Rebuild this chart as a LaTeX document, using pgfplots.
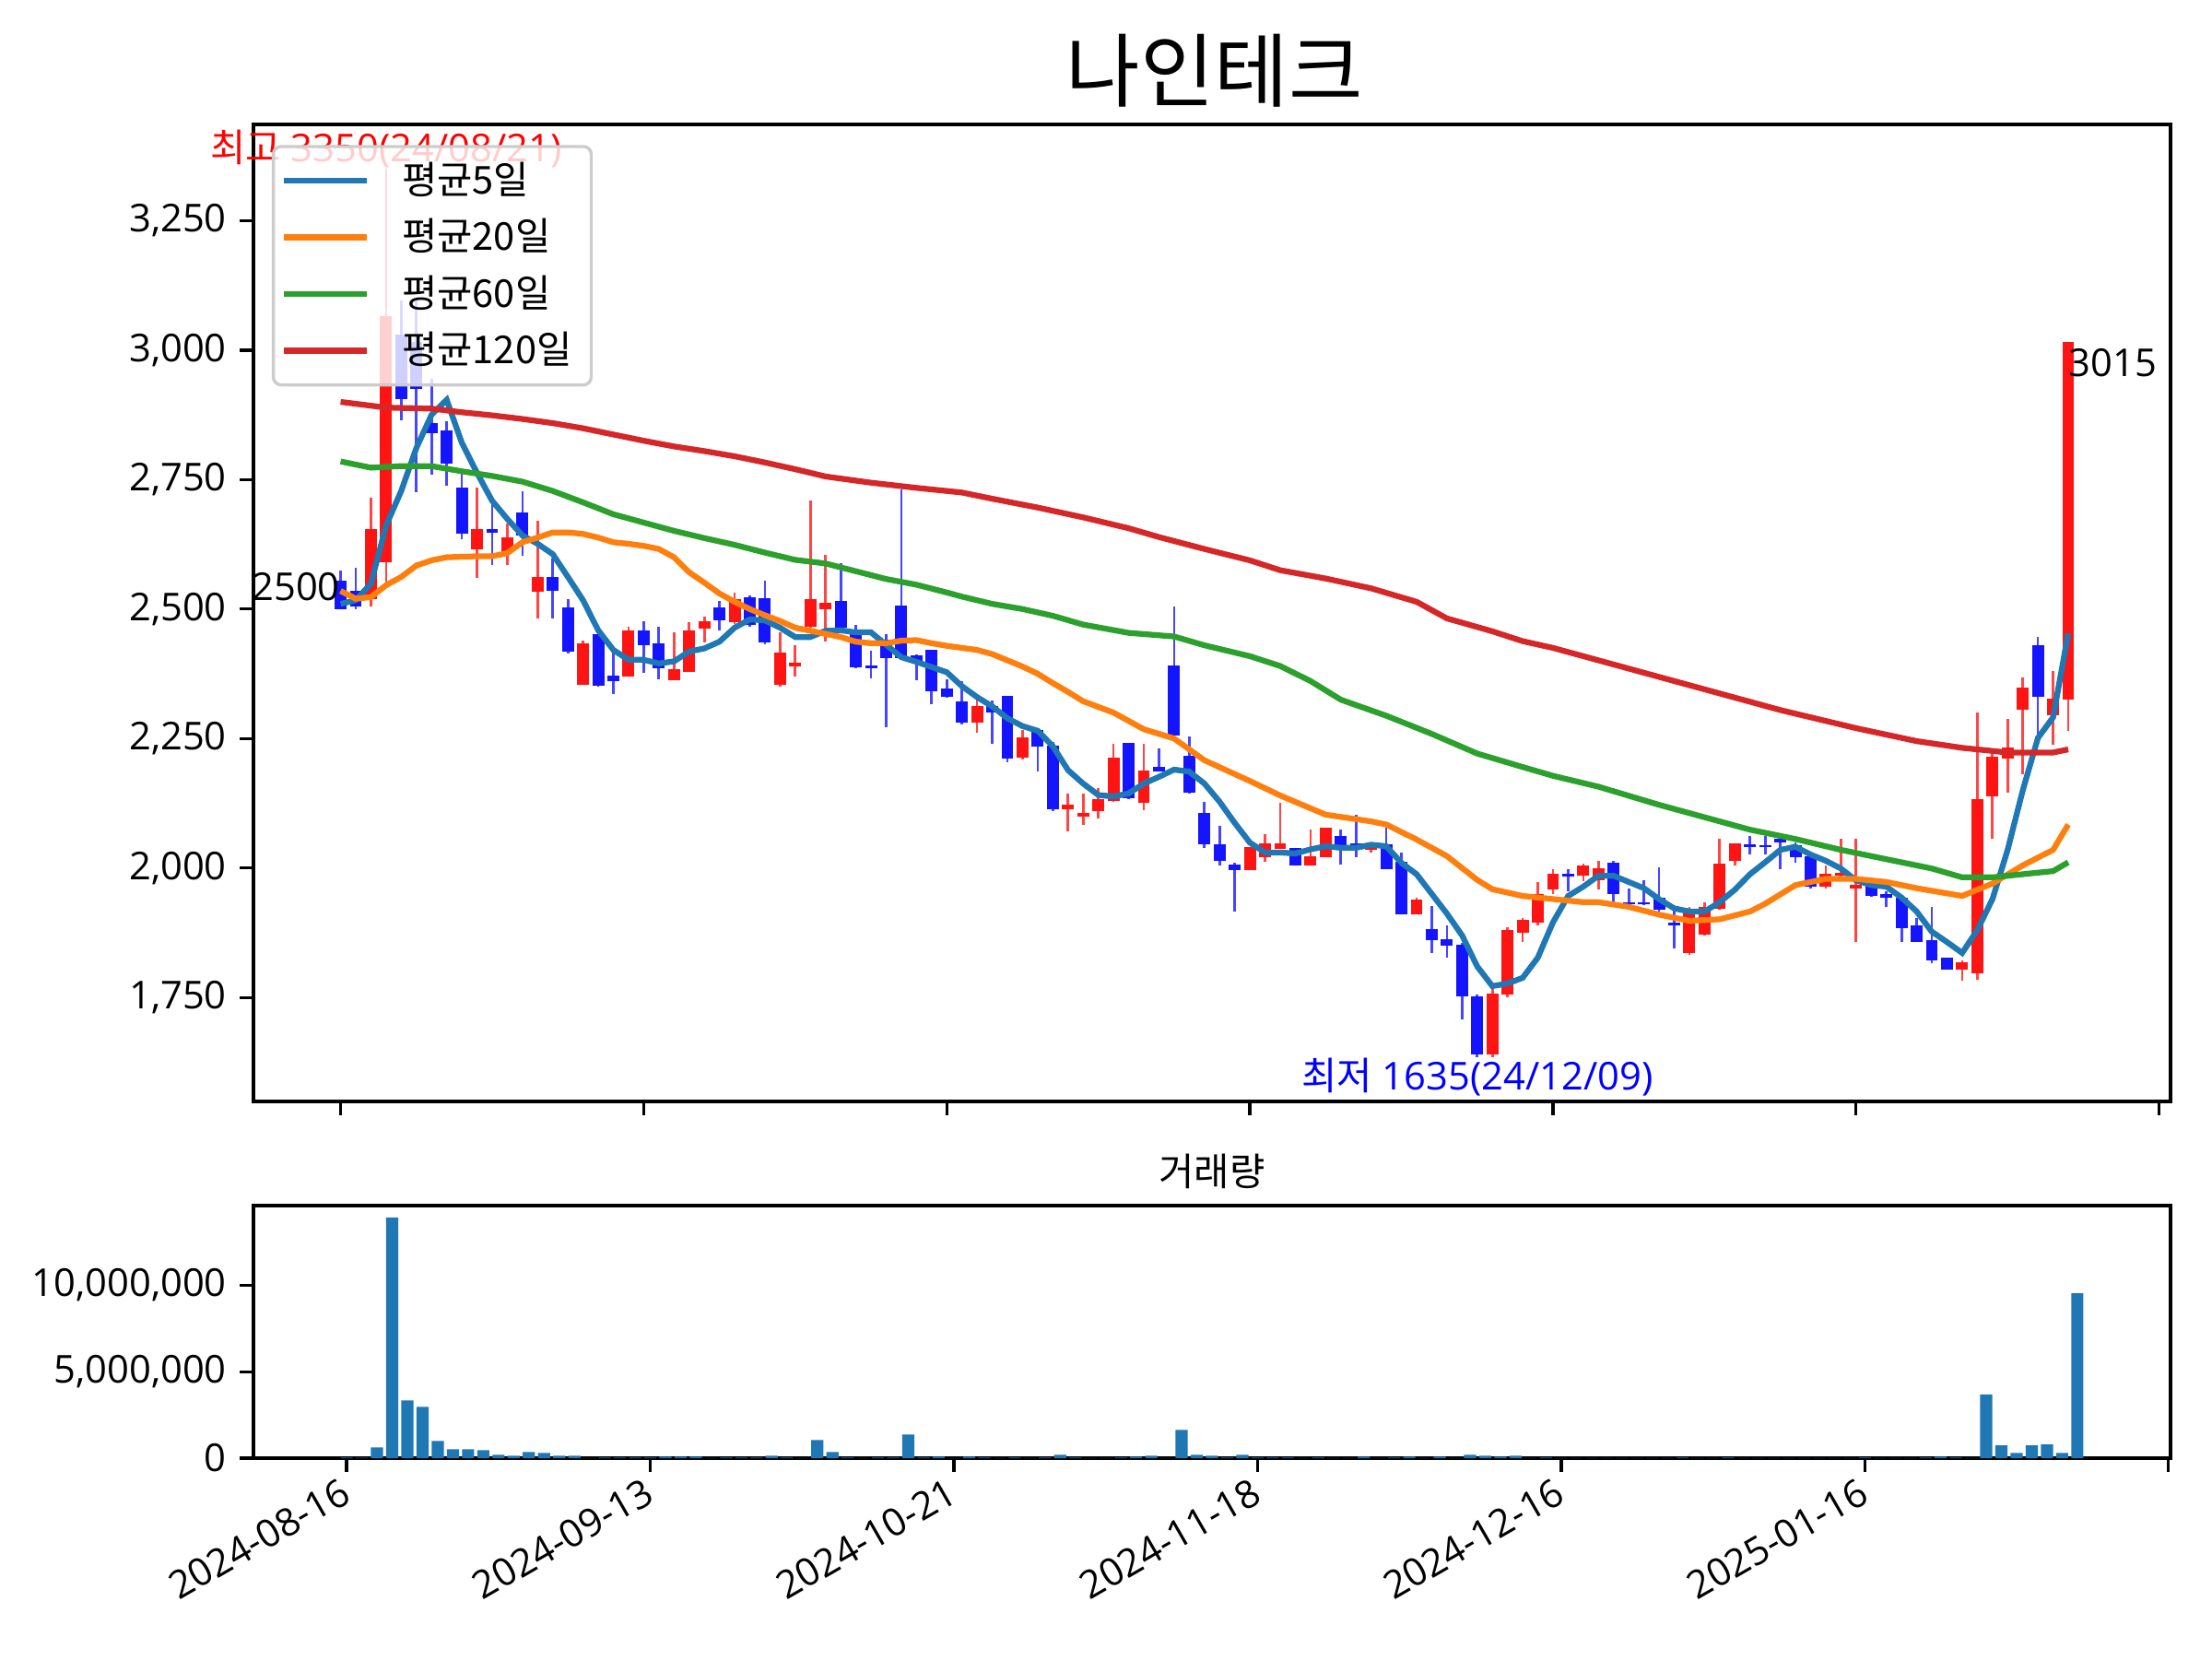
\documentclass[border=0pt]{standalone}
\usepackage{fontspec}
\setmainfont{Open Sans}
\newfontfamily\kr{Noto Sans CJK KR}
\usepackage{pgfplots}
\usepackage{pgfplotstable}
\pgfplotsset{compat=1.18}

\definecolor{cup}{RGB}{255,20,20}
\definecolor{cdn}{RGB}{20,20,255}
\definecolor{wup}{RGB}{255,70,70}
\definecolor{wdn}{RGB}{70,70,255}
\definecolor{c0}{HTML}{1F77B4}
\definecolor{c1}{HTML}{FF7F0E}
\definecolor{c2}{HTML}{2CA02C}
\definecolor{c3}{HTML}{D62728}

\pgfplotstableread{
i O H L C V
0 2555 2575 2500 2500 40000
1 2535 2580 2500 2505 20000
2 2520 2715 2505 2655 620000
3 2590 3350 2550 3065 13920000
4 3030 3095 2865 2905 3350000
5 3015 3095 2725 2925 2970000
6 2860 2945 2760 2840 1000000
7 2845 2862 2738 2780 520000
8 2735 2765 2635 2645 520000
9 2615 2735 2560 2655 460000
10 2655 2715 2585 2648 200000
11 2610 2665 2585 2638 140000
12 2686 2728 2603 2642 360000
13 2533 2670 2482 2562 300000
14 2562 2597 2482 2536 140000
15 2503 2520 2415 2418 140000
16 2354 2440 2354 2433 15000
17 2452 2455 2350 2352 40000
18 2372 2416 2336 2360 40000
19 2369 2465 2369 2458 40000
20 2458 2476 2376 2430 40000
21 2433 2465 2365 2385 90000
22 2363 2455 2363 2384 90000
23 2379 2475 2379 2458 90000
24 2463 2485 2436 2477 15000
25 2503 2515 2458 2479 40000
26 2475 2532 2472 2520 40000
27 2522 2527 2466 2470 40000
28 2521 2555 2432 2435 140000
29 2354 2455 2350 2416 40000
30 2390 2431 2370 2397 15000
31 2465 2710 2464 2520 1050000
32 2500 2605 2437 2512 360000
33 2516 2588 2460 2464 40000
34 2452 2470 2385 2388 15000
35 2391 2419 2366 2385 40000
36 2441 2451 2271 2406 40000
37 2507 2731 2404 2406 1370000
38 2410 2413 2362 2396 40000
39 2422 2422 2317 2342 90000
40 2347 2364 2329 2330 15000
41 2322 2360 2278 2280 90000
42 2280 2327 2262 2313 40000
43 2313 2324 2240 2301 15000
44 2333 2333 2205 2211 40000
45 2213 2266 2210 2253 15000
46 2267 2267 2186 2234 40000
47 2237 2243 2110 2114 200000
48 2114 2144 2071 2122 40000
49 2100 2144 2084 2107 15000
50 2110 2154 2096 2133 15000
51 2130 2240 2128 2213 40000
52 2241 2241 2133 2135 90000
53 2125 2240 2112 2188 140000
54 2195 2230 2186 2187 15000
55 2391 2505 2256 2256 1640000
56 2216 2254 2144 2145 200000
57 2107 2128 2039 2045 140000
58 2045 2081 2004 2014 40000
59 2006 2010 1916 1996 200000
60 1996 2041 1996 2041 40000
61 2020 2065 2012 2047 40000
62 2037 2125 2037 2047 40000
63 2039 2039 2004 2004 15000
64 2004 2074 2004 2022 40000
65 2020 2077 2020 2077 15000
66 2061 2074 2007 2039 15000
67 2047 2103 2020 2039 90000
68 2036 2050 2030 2047 15000
69 2045 2077 1998 1998 40000
70 2012 2030 1910 1910 90000
71 1910 1943 1910 1939 15000
72 1882 1927 1835 1860 90000
73 1862 1889 1827 1850 15000
74 1852 1855 1708 1752 200000
75 1752 1755 1635 1640 140000
76 1640 1767 1635 1758 90000
77 1755 1886 1750 1880 140000
78 1875 1904 1857 1900 15000
79 1895 1973 1890 1950 40000
80 1958 1997 1949 1988 15000
81 1988 1997 1955 1983 15000
82 1985 2008 1975 2005 15000
83 1976 2014 1958 1999 15000
84 2011 2014 1934 1950 15000
85 1934 1961 1929 1930 15000
86 1934 1976 1929 1930 15000
87 1943 2002 1916 1920 15000
88 1895 1919 1845 1890 40000
89 1836 1925 1832 1916 15000
90 1872 1934 1869 1925 15000
91 1922 2056 1920 2008 40000
92 2014 2047 2005 2047 15000
93 2046 2062 2026 2040 15000
94 2044 2062 2026 2040 15000
95 2056 2062 1997 2050 15000
96 2044 2050 2010 2020 15000
97 2023 2030 1960 1964 15000
98 1964 2005 1961 1988 15000
99 1985 2056 1982 1991 15000
100 1961 2056 1857 1967 40000
101 1970 1972 1944 1946 15000
102 1949 1955 1925 1943 15000
103 1943 1945 1857 1883 15000
104 1889 1904 1857 1858 40000
105 1860 1925 1816 1822 90000
106 1827 1827 1803 1804 40000
107 1803 1821 1782 1818 15000
108 1797 2300 1785 2133 3690000
109 2139 2220 2056 2214 750000
110 2211 2288 2145 2232 300000
111 2305 2368 2181 2348 750000
112 2430 2446 2249 2330 800000
113 2295 2380 2238 2327 300000
114 2325 3015 2265 3015 9540000
}\stock

\pgfplotstableread{
i v
0 2510
1 2517
2 2549
3 2661
4 2728
5 2811
6 2875
7 2904
8 2821
9 2763
10 2709
11 2674
12 2642
13 2626
14 2606
15 2562
16 2517
17 2459
18 2421
19 2402
20 2402
21 2395
22 2399
23 2418
24 2424
25 2437
26 2464
27 2480
28 2478
29 2464
30 2446
31 2446
32 2458
33 2459
34 2455
35 2455
36 2431
37 2407
38 2398
39 2388
40 2378
41 2351
42 2330
43 2312
44 2289
45 2274
46 2265
47 2235
48 2189
49 2163
50 2141
51 2138
52 2144
53 2163
54 2176
55 2190
56 2186
57 2163
58 2128
59 2087
60 2049
61 2030
62 2030
63 2028
64 2036
65 2042
66 2039
67 2039
68 2045
69 2042
70 2010
71 1988
72 1950
73 1912
74 1870
75 1810
76 1772
77 1777
78 1788
79 1827
80 1895
81 1946
82 1964
83 1985
84 1985
85 1973
86 1961
87 1940
88 1922
89 1916
90 1916
91 1934
92 1958
93 1988
94 2011
95 2035
96 2041
97 2026
98 2014
99 1999
100 1976
101 1967
102 1964
103 1943
104 1916
105 1877
106 1857
107 1836
108 1880
109 1940
110 2035
111 2150
112 2251
113 2291
114 2453
}\maA

\pgfplotstableread{
i v
0 2535
1 2520
2 2523
3 2546
4 2562
5 2584
6 2594
7 2600
9 2602
10 2602
11 2608
12 2629
13 2638
14 2648
15 2648
16 2645
17 2638
18 2629
19 2626
20 2622
21 2616
22 2600
23 2571
24 2551
25 2530
26 2514
27 2500
28 2488
29 2477
30 2464
31 2458
32 2452
33 2446
34 2437
35 2434
36 2434
37 2439
38 2440
39 2434
40 2429
41 2425
42 2421
43 2413
44 2401
45 2389
46 2375
47 2357
48 2340
49 2322
51 2300
53 2268
55 2250
57 2208
60 2168
62 2140
65 2103
68 2090
69 2084
71 2055
73 2023
75 1977
76 1959
78 1946
80 1940
82 1934
83 1934
85 1925
87 1910
89 1898
91 1901
93 1916
94 1931
96 1967
98 1979
100 1979
102 1973
104 1961
107 1946
109 1970
111 2005
113 2035
114 2084
}\maB

\pgfplotstableread{
i v
0 2785
2 2773
4 2776
6 2776
8 2766
10 2757
12 2746
14 2728
16 2706
18 2683
20 2667
22 2651
24 2637
26 2624
28 2609
30 2595
32 2588
34 2573
36 2558
38 2547
40 2532
41 2524
43 2510
45 2500
47 2487
49 2470
52 2454
55 2447
57 2430
60 2409
62 2390
64 2361
66 2325
69 2294
72 2259
75 2221
78 2195
80 2178
83 2157
87 2122
90 2098
93 2074
96 2056
99 2035
102 2017
105 1999
107 1982
109 1982
111 1988
113 1994
114 2011
}\maC

\pgfplotstableread{
i v
0 2900
3 2889
6 2887
8 2880
10 2874
12 2867
14 2859
16 2849
18 2837
20 2825
22 2814
24 2805
26 2795
28 2783
30 2770
32 2756
35 2744
38 2734
41 2725
43 2713
46 2696
49 2677
52 2656
54 2639
57 2616
60 2594
62 2575
65 2559
68 2540
71 2514
73 2482
76 2457
78 2438
80 2425
85 2385
90 2345
95 2305
100 2270
104 2245
107 2232
110 2223
113 2223
114 2229
}\maD

\pgfplotsset{
  chartbase/.style={
    scale only axis,
    width=499.2pt,
    tick pos=left,
    tick align=outside,
    major tick length=3.5pt,
    tick style={black, line width=0.8pt},
    axis line style={black, line width=0.8pt},
    tick label style={font=\fontsize{10}{12}\selectfont, text=black},
    xtick={0,20,40,60,80,100,120},
  },
  candle/.style={forget plot, draw=none, mark=none},
}

\begin{document}
\begin{tikzpicture}
\path[use as bounding box] (0,0) rectangle (576pt,432pt);

\begin{axis}[
  chartbase,
  at={(66pt,145.2pt)}, anchor=south west,
  height=254.4pt,
  xmin=-5.75, xmax=120.75,
  ymin=1549.25, ymax=3435.75,
  xticklabels={},
  ytick={1750,2000,2250,2500,2750,3000,3250},
  yticklabels={{1,750},{2,000},{2,250},{2,500},{2,750},{3,000},{3,250}},
  clip mode=individual,
  legend style={at={(0.0096,0.979)}, anchor=north west,
    draw=black!20, line width=0.8pt, rounded corners=2pt,
    fill=white, fill opacity=0.8, draw opacity=1, text opacity=1,
    font=\kr\fontsize{10}{12}\selectfont,
    inner xsep=2pt, inner ysep=1.5pt, row sep=0pt, column sep=5.5pt,
    nodes={inner xsep=3pt, inner ysep=2.5pt}},
  legend cell align=left,
  legend image code/.code={\draw[#1] (0pt,0pt) -- (21.5pt,0pt);},
]
% wicks
\addplot[candle,
  restrict expr to domain={\thisrow{C}-\thisrow{O}}{0:100000},
  error bars/.cd, y dir=plus, y explicit, error mark=none,
  error bar style={draw=wup, line width=0.65pt}]
  table[x=i, y=L, y error expr=\thisrow{H}-\thisrow{L}] {\stock};
\addplot[candle,
  restrict expr to domain={\thisrow{C}-\thisrow{O}}{-100000:-0.5},
  error bars/.cd, y dir=plus, y explicit, error mark=none,
  error bar style={draw=wdn, line width=0.65pt}]
  table[x=i, y=L, y error expr=\thisrow{H}-\thisrow{L}] {\stock};
% bodies
\addplot[candle,
  restrict expr to domain={\thisrow{C}-\thisrow{O}}{0:100000},
  error bars/.cd, y dir=plus, y explicit, error mark=none,
  error bar style={draw=cup, line width=3.1pt}]
  table[x=i, y=O, y error expr=\thisrow{C}-\thisrow{O}] {\stock};
\addplot[candle,
  restrict expr to domain={\thisrow{C}-\thisrow{O}}{-100000:-0.5},
  error bars/.cd, y dir=plus, y explicit, error mark=none,
  error bar style={draw=cdn, line width=3.1pt}]
  table[x=i, y=C, y error expr=\thisrow{O}-\thisrow{C}] {\stock};
% moving averages
\addplot[c0, line width=1.5pt, mark=none] table[x=i, y=v] {\maA};
\addlegendentry{평균5일}
\addplot[c1, line width=1.5pt, mark=none] table[x=i, y=v] {\maB};
\addlegendentry{평균20일}
\addplot[c2, line width=1.5pt, mark=none] table[x=i, y=v] {\maC};
\addlegendentry{평균60일}
\addplot[c3, line width=1.5pt, mark=none] table[x=i, y=v] {\maD};
\addlegendentry{평균120일}

\node[anchor=south, inner sep=0pt, text=red, font=\fontsize{10}{12}\selectfont] at (axis cs:3,3350) {{\kr 최고} 3350(24/08/21)};
\node[anchor=north, inner sep=0pt, text=blue, font=\fontsize{10}{12}\selectfont] at (axis cs:75,1635) {{\kr 최저} 1635(24/12/09)};
\node[anchor=south east, inner sep=0pt, yshift=2pt, font=\fontsize{10}{12}\selectfont] at (axis cs:0,2500) {2500};
\node[anchor=north west, inner sep=0pt, yshift=-1.5pt, font=\fontsize{10}{12}\selectfont] at (axis cs:114,3015) {3015};
\end{axis}

\begin{axis}[
  chartbase,
  at={(66pt,52.3pt)}, anchor=south west,
  height=65.8pt,
  xmin=-6.14, xmax=120.14,
  ymin=0, ymax=14616000,
  scaled y ticks=false,
  ytick={0,5000000,10000000},
  yticklabels={0,{5,000,000},{10,000,000}},
  xticklabels={2024-08-16,2024-09-13,2024-10-21,2024-11-18,2024-12-16,2025-01-16,{}},
  xticklabel style={xshift=-2pt, yshift=-1pt, rotate=30, anchor=north east, inner sep=0pt},
]
\addplot[ybar, bar width=0.8, fill=c0, draw=none] table[x=i, y=V] {\stock};
\end{axis}

\node at (316.2pt,413.6pt) {\kr\fontsize{21}{25}\selectfont 나인테크};
\node at (315.6pt,127pt) {\kr\fontsize{10}{12}\selectfont 거래량};
\end{tikzpicture}
\end{document}
